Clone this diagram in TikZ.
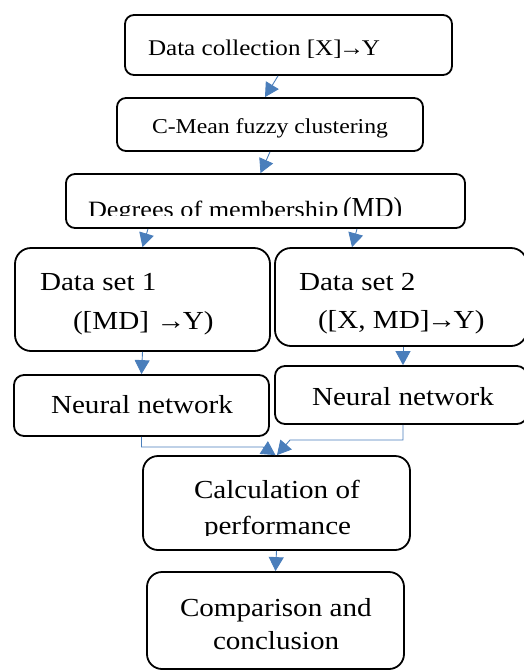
\documentclass[tikz,border=0pt]{standalone}
\usepackage{fontspec}
\setmainfont{Liberation Serif}[FakeStretch=1.12]
\usepackage{graphicx}
\usetikzlibrary{arrows.meta}
\definecolor{arrblue}{HTML}{4A7EBB}
\newcommand\fsz[1]{\fontsize{#1pt}{#1pt}\selectfont}
\newcommand\rarr{\kern-2.5pt→\kern-2.5pt}
\tikzset{
  box/.style={draw=black, line width=1.8pt, rounded corners=#1, inner sep=0pt, fill=none},
  box/.default=9pt,
  arr/.style={draw=arrblue, line width=0.9pt, -{Triangle[width=15pt,length=14pt]}},
  txt/.style={anchor=base west, inner sep=0pt, outer sep=0pt, text=black},
}
\begin{document}
\begin{tikzpicture}[x=1pt,y=-1pt]
\useasboundingbox (0,0) rectangle (524,670);
% boxes
\node[box, minimum width=327pt, minimum height=60pt] (dc) at (288.5,45) {};
\node[box, minimum width=306pt, minimum height=53pt] (cm) at (270,124.5) {};
\node[box, minimum width=399pt, minimum height=54pt] (dm) at (265.5,201) {};
\node[box=16pt, minimum width=255pt, minimum height=103pt] (ds1) at (142.5,299.5) {};
\node[box=16pt, minimum width=252pt, minimum height=98pt] (ds2) at (401,297) {};
\node[box=10pt, minimum width=255pt, minimum height=61pt] (nn1) at (141.5,405.5) {};
\node[box=10pt, minimum width=252pt, minimum height=58pt] (nn2) at (401,395) {};
\node[box=15pt, minimum width=267pt, minimum height=94pt] (calc) at (276.5,503) {};
\node[box=15pt, minimum width=257pt, minimum height=97pt] (comp) at (275.5,620.5) {};
% texts
\node[txt] (t1) at (148,55.5) {\fsz{22.4}Data collection [X]\rarr Y};
\node[txt] (t2) at (152,133.5) {\fsz{21.2}C-Mean fuzzy clustering};
\begin{scope}
  \clip (66,170) rectangle (466,215.7);
  \node[txt] (t3) at (88,217) {\fsz{23.4}Degrees of membership};
  \node[txt] (t3b) at (343,217) {\scalebox{0.8}[1]{\fsz{29}(MD)}};
\end{scope}
\node[txt] (t4) at (40,290.5) {\fsz{26}Data set 1};
\node[txt] (t5) at (73,329) {\fsz{26}([MD] →\kern-2.5pt Y)};
\node[txt] (t6) at (299,290.5) {\fsz{26}Data set 2};
\node[txt] (t7) at (318,328.5) {\fsz{26}([X, MD]\rarr Y)};
\node[txt] (t8) at (51,413.5) {\fsz{26}Neural network};
\node[txt] (t9) at (312,405) {\fsz{26}Neural network};
\node[txt] (t10) at (194,498.3) {\fsz{26}Calculation of};
\begin{scope}
  \clip (143,515) rectangle (410,535.5);
  \node[txt] (t11) at (204,534) {\fsz{26}performance};
\end{scope}
\node[txt] (t12) at (180,616.7) {\fsz{26}Comparison and};
\node[txt] (t13) at (213,649) {\fsz{26}conclusion};
% arrows
\draw[arr] ([xshift=-10.5pt]dc.south) -- ([xshift=-5pt]cm.north);
\draw[arr] (cm.south) -- ([xshift=-5pt]dm.north);
\draw[arr] ([xshift=-117.5pt]dm.south) -- (ds1.north);
\draw[arr] ([xshift=91.5pt]dm.south) -- ([xshift=-49pt]ds2.north);
\draw[arr] (ds1.south) -- (nn1.north);
\draw[arr] ([xshift=2pt]ds2.south) -- ([xshift=2pt]nn2.north);
\coordinate (j1) at (263,447);
\coordinate (j2) at (290,440);
\draw[arr] (nn1.south) |- (j1) -- ([xshift=-1pt]calc.north);
\draw[arr] ([xshift=2pt]nn2.south) |- (j2) -- ([xshift=0.5pt]calc.north);
\draw[arr] (calc.south) -- (comp.north);
\end{tikzpicture}
\end{document}
